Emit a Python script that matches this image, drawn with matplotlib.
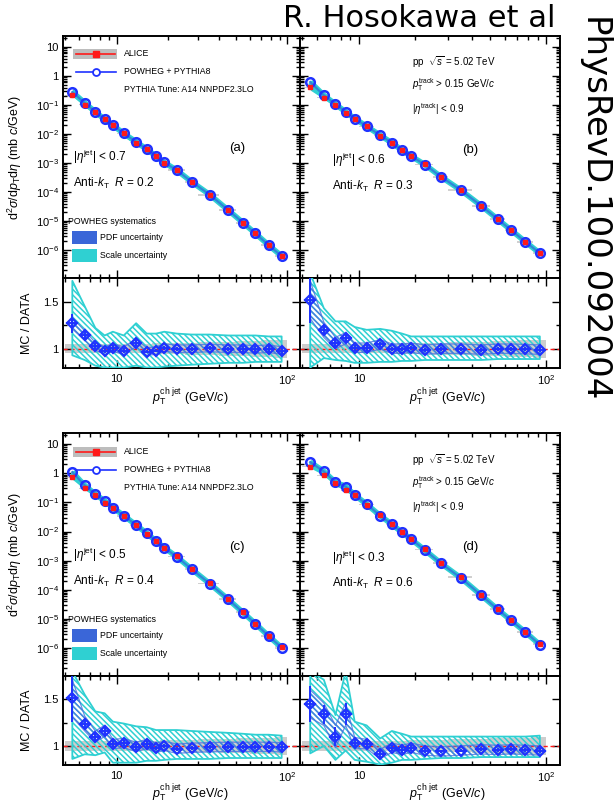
import numpy as np
import matplotlib
matplotlib.use("Agg")
import matplotlib.pyplot as plt
from matplotlib.ticker import FixedLocator, FixedFormatter, NullFormatter, LogLocator
from matplotlib.patches import Rectangle

plt.rcParams['font.family'] = ['Liberation Sans', 'DejaVu Sans']
plt.rcParams['mathtext.fontset'] = 'custom'
plt.rcParams['mathtext.rm'] = 'Liberation Sans'
plt.rcParams['mathtext.it'] = 'Liberation Sans:italic'
plt.rcParams['mathtext.bf'] = 'Liberation Sans:bold'
plt.rcParams['mathtext.sf'] = 'Liberation Sans'
plt.rcParams['hatch.linewidth'] = 1.1

# ---------------- data ----------------
bin_edges = [5, 6, 7, 8, 9, 10, 12, 14, 16, 18, 20, 25, 30, 40, 50, 60, 70, 85, 100]

alice_a = [0.22, 0.104, 0.0566, 0.0331, 0.0200, 0.0107, 0.0051, 0.0031, 0.00178, 0.00104,
           5.7e-4, 2.26e-4, 8.2e-5, 2.4e-5, 8.8e-6, 3.8e-6, 1.5e-6, 6.4e-7]
alice_b = [0.41, 0.181, 0.101, 0.0523, 0.034, 0.0184, 0.0087, 0.0050, 0.00278, 0.00172,
           9.0e-4, 3.35e-4, 1.17e-4, 3.43e-5, 1.18e-5, 4.9e-6, 1.95e-6, 7.9e-7]
alice_c = [0.72, 0.306, 0.173, 0.0966, 0.0647, 0.0342, 0.0168, 0.0085, 0.0048, 0.00278,
           1.4e-3, 5.2e-4, 1.66e-4, 4.75e-5, 1.67e-5, 6.9e-6, 2.63e-6, 1.05e-6]
alice_d = [1.66, 0.86, 0.445, 0.261, 0.175, 0.0843, 0.0383, 0.018, 0.0097, 0.0056,
           2.42e-3, 8.5e-4, 2.7e-4, 6.75e-5, 2.24e-5, 9.2e-6, 3.66e-6, 1.37e-6]

ratio_a = [1.27, 1.14, 1.025, 0.98, 1.01, 0.98, 1.06, 0.97, 0.98, 1.01, 1.0, 1.0, 1.007, 1.0, 1.0, 0.992, 1.0, 0.98]
ratio_b = [1.52, 1.20, 1.06, 1.11, 1.01, 1.01, 1.046, 1.0, 1.0, 1.01, 0.99, 1.0, 1.0, 0.99, 1.0, 1.0, 0.995, 0.99]
ratio_c = [1.51, 1.24, 1.10, 1.16, 1.02, 1.03, 0.99, 1.02, 0.98, 1.0, 0.97, 0.98, 0.985, 0.99, 0.99, 0.99, 0.99, 0.985]
ratio_d = [1.45, 1.34, 1.10, 1.34, 1.03, 1.02, 0.913, 0.98, 0.957, 0.98, 0.95, 0.94, 0.95, 0.963, 0.957, 0.963, 0.957, 0.95]

rerr_a = [0.10, 0.06, 0.03, 0.03, 0.03, 0.03, 0.03, 0.02, 0.02, 0.02, 0.02, 0.02, 0.02, 0.02, 0.03, 0.04, 0.04, 0.05]
rerr_b = [0.25, 0.06, 0.04, 0.05, 0.03, 0.03, 0.03, 0.02, 0.02, 0.02, 0.02, 0.02, 0.02, 0.02, 0.02, 0.02, 0.02, 0.03]
rerr_c = [0.25, 0.06, 0.05, 0.05, 0.03, 0.03, 0.03, 0.03, 0.02, 0.02, 0.02, 0.02, 0.02, 0.02, 0.02, 0.02, 0.02, 0.03]
rerr_d = [0.19, 0.10, 0.10, 0.12, 0.04, 0.04, 0.04, 0.03, 0.03, 0.03, 0.03, 0.02, 0.02, 0.02, 0.02, 0.02, 0.02, 0.03]

scale_hi_a = [1.72, 1.45, 1.22, 1.14, 1.18, 1.14, 1.27, 1.16, 1.16, 1.18, 1.16, 1.15, 1.15, 1.14, 1.14, 1.14, 1.13, 1.13]
scale_lo_a = [0.93, 0.88, 0.82, 0.80, 0.80, 0.80, 0.82, 0.80, 0.80, 0.81, 0.82, 0.83, 0.84, 0.85, 0.85, 0.86, 0.86, 0.86]
scale_hi_b = [1.80, 1.43, 1.29, 1.29, 1.23, 1.20, 1.21, 1.19, 1.16, 1.13, 1.13, 1.13, 1.13, 1.13, 1.13, 1.13, 1.13, 1.13]
scale_lo_b = [0.80, 0.90, 0.88, 0.87, 0.85, 0.85, 0.86, 0.86, 0.87, 0.87, 0.88, 0.88, 0.88, 0.88, 0.89, 0.89, 0.89, 0.89]
scale_hi_c = [1.80, 1.55, 1.37, 1.35, 1.26, 1.24, 1.21, 1.20, 1.17, 1.17, 1.17, 1.16, 1.15, 1.14, 1.13, 1.12, 1.12, 1.11]
scale_lo_c = [0.86, 0.91, 0.90, 0.93, 0.82, 0.82, 0.82, 0.84, 0.84, 0.85, 0.86, 0.86, 0.86, 0.87, 0.87, 0.87, 0.87, 0.87]
scale_hi_d = [1.80, 1.71, 1.33, 1.80, 1.26, 1.22, 1.08, 1.16, 1.13, 1.10, 1.10, 1.10, 1.10, 1.10, 1.10, 1.10, 1.10, 1.11]
scale_lo_d = [0.92, 1.00, 0.85, 0.95, 0.85, 0.83, 0.80, 0.82, 0.85, 0.85, 0.86, 0.87, 0.87, 0.88, 0.88, 0.88, 0.88, 0.88]

pdf_a = [0.06, 0.05, 0.04, 0.04, 0.04, 0.04, 0.04, 0.04, 0.04, 0.04, 0.04, 0.04, 0.04, 0.04, 0.04, 0.04, 0.04, 0.04]
pdf_b = [0.20, 0.08, 0.06, 0.06, 0.05, 0.05, 0.05, 0.05, 0.05, 0.05, 0.05, 0.05, 0.05, 0.05, 0.05, 0.05, 0.05, 0.05]
pdf_c = [0.20, 0.08, 0.06, 0.06, 0.05, 0.05, 0.05, 0.05, 0.05, 0.05, 0.05, 0.05, 0.05, 0.05, 0.05, 0.05, 0.05, 0.05]
pdf_d = [0.15, 0.12, 0.12, 0.12, 0.06, 0.05, 0.05, 0.05, 0.05, 0.05, 0.05, 0.05, 0.05, 0.05, 0.05, 0.05, 0.05, 0.05]

alice_sys = [0.05, 0.05, 0.05, 0.05, 0.05, 0.05, 0.05, 0.05, 0.055, 0.06,
             0.06, 0.065, 0.07, 0.075, 0.08, 0.085, 0.09, 0.095]

panel_labels = ['(a)', '(b)', '(c)', '(d)']
eta_jet_labels = [r'$|\eta^{\rm jet}|$ < 0.7', r'$|\eta^{\rm jet}|$ < 0.6',
                  r'$|\eta^{\rm jet}|$ < 0.5', r'$|\eta^{\rm jet}|$ < 0.3']
radius_labels = [r'Anti-$k_{\rm T}$  $R$ = 0.2', r'Anti-$k_{\rm T}$  $R$ = 0.3',
                 r'Anti-$k_{\rm T}$  $R$ = 0.4', r'Anti-$k_{\rm T}$  $R$ = 0.6']

# ---------------- layout ----------------
W, H = 614, 808
fig = plt.figure(figsize=(W / 100, H / 100), dpi=100)

def add_px(x0, y0, x1, y1, **kw):
    return fig.add_axes([x0 / W, 1 - y1 / H, (x1 - x0) / W, (y1 - y0) / H], **kw)

C_RED = '#ff1a1a'
C_BLUE = '#1f32ff'
C_CYAN = '#2fd0d2'
C_PDF = '#3a66d8'
C_GREY = '#bdbdbd'

edges = np.array(bin_edges, dtype=float)
centers = 0.5 * (edges[:-1] + edges[1:])
widths = np.diff(edges)
halfw = widths / 2

panels = [
    dict(box=(63, 300), ys=(36, 278, 368), alice=alice_a, ratio=ratio_a, rerr=rerr_a,
         shi=scale_hi_a, slo=scale_lo_a, pdf=pdf_a, left=True),
    dict(box=(300, 560), ys=(36, 278, 368), alice=alice_b, ratio=ratio_b, rerr=rerr_b,
         shi=scale_hi_b, slo=scale_lo_b, pdf=pdf_b, left=False),
    dict(box=(63, 300), ys=(433, 676, 765), alice=alice_c, ratio=ratio_c, rerr=rerr_c,
         shi=scale_hi_c, slo=scale_lo_c, pdf=pdf_c, left=True),
    dict(box=(300, 560), ys=(433, 676, 765), alice=alice_d, ratio=ratio_d, rerr=rerr_d,
         shi=scale_hi_d, slo=scale_lo_d, pdf=pdf_d, left=False),
]

XLIM = (4.85, 118.5)
YLIM = (1.1e-7, 24)
RLIM = (0.795, 1.75)
TICKFS = 8

def style_axes(ax):
    for s in ax.spines.values():
        s.set_linewidth(1.4)
    ax.tick_params(which='both', direction='in', top=True, right=True, width=1.0,
                   labelsize=TICKFS, pad=3)
    ax.tick_params(which='major', length=6)
    ax.tick_params(which='minor', length=3)
    ax.set_xscale('log')
    ax.set_xlim(*XLIM)
    ax.xaxis.set_major_locator(FixedLocator([10, 100]))
    ax.xaxis.set_major_formatter(FixedFormatter(['10', r'$10^{2}$']))
    ax.xaxis.set_minor_locator(FixedLocator([5, 6, 7, 8, 9, 20, 30, 40, 50, 60, 70, 80, 90]))
    ax.xaxis.set_minor_formatter(NullFormatter())

for i, p in enumerate(panels):
    x0, x1 = p['box']
    yt, ym, yb = p['ys']
    axm = add_px(x0, yt, x1, ym)
    axr = add_px(x0, ym, x1, yb)
    alice = np.array(p['alice'])
    ratio = np.array(p['ratio'])
    rerr = np.array(p['rerr'])
    shi = np.array(p['shi'])
    slo = np.array(p['slo'])
    pdf = np.array(p['pdf'])
    sys_ = np.array(alice_sys)
    powheg = alice * ratio

    # ---- main panel ----
    style_axes(axm)
    axm.set_yscale('log')
    axm.set_ylim(*YLIM)
    axm.bar(edges[:-1], alice * 2 * sys_, bottom=alice * (1 - sys_), width=widths,
            align='edge', color=C_GREY, alpha=0.7, lw=0, zorder=1)
    axm.fill_between(centers, alice * slo, alice * np.minimum(shi, 1.75), color=C_CYAN, lw=0, zorder=2)
    axm.plot(centers, powheg, color=C_CYAN, lw=4.0, zorder=2, solid_capstyle='butt')
    axm.plot(centers, powheg, color='#2f86d8', lw=1.6, zorder=3)
    axm.plot(centers, powheg, ls='none', marker='o', ms=6.2, mfc='none', mec=C_BLUE, mew=1.8, zorder=4)
    axm.errorbar(centers, alice, yerr=alice * 0.04, fmt='s', ms=3.3,
                 color=C_RED, mec=C_RED, elinewidth=1.0, capsize=0, zorder=5)
    axm.yaxis.set_major_locator(FixedLocator([10.0 ** k for k in range(-7, 2)]))
    ylabs = []
    for k in range(-7, 2):
        if k == 1:
            ylabs.append('10')
        elif k == 0:
            ylabs.append('1')
        else:
            ylabs.append(r'$10^{%d}$' % k)
    axm.yaxis.set_major_formatter(FixedFormatter(ylabs))
    axm.yaxis.set_minor_locator(LogLocator(base=10, subs=np.arange(2, 10), numticks=30))
    axm.yaxis.set_minor_formatter(NullFormatter())
    axm.tick_params(axis='x', labelbottom=False)
    if p['left']:
        axm.set_ylabel(r'd$^{2}\sigma$/d$p_{\rm T}$d$\eta$ (mb $c$/GeV)', fontsize=9)
        axm.yaxis.set_label_coords(-0.165, 0.5)
    else:
        axm.tick_params(axis='y', labelleft=False)

    # ---- ratio panel ----
    style_axes(axr)
    axr.set_ylim(*RLIM)
    axr.bar(edges[:-1], 2 * sys_, bottom=1 - sys_, width=widths, align='edge',
            color=C_GREY, alpha=0.75, lw=0, zorder=1)
    axr.axhline(1.0, color=C_RED, ls='--', lw=1.0, dashes=(3, 2), zorder=2)
    axr.fill_between(centers, slo, shi, facecolor='none', edgecolor=C_CYAN,
                     hatch='\\\\\\\\\\\\', lw=1.3, zorder=3)
    axr.fill_between(centers, ratio - pdf, ratio + pdf, facecolor='none', edgecolor='#4a6fe0',
                     hatch='\\\\\\\\\\\\', lw=0.9, alpha=0.8, zorder=4)
    axr.errorbar(centers, ratio, yerr=rerr, fmt='D', ms=5.0, mfc='none', mec=C_BLUE, mew=1.6,
                 color=C_BLUE, elinewidth=1.4, capsize=0, zorder=6)
    axr.plot(centers, ratio, ls='none', marker='_', ms=8, mew=1.4, color=C_BLUE, zorder=6)
    axr.yaxis.set_major_locator(FixedLocator([1.0, 1.5]))
    axr.yaxis.set_major_formatter(FixedFormatter(['1', '1.5']))
    axr.yaxis.set_minor_locator(FixedLocator([1.25]))
    axr.yaxis.set_minor_formatter(NullFormatter())
    axr.tick_params(axis='x', pad=4)
    axr.set_xlabel(r'$p_{\rm T}^{\rm ch\;jet}$ (GeV/$c$)', fontsize=9)
    axr.xaxis.set_label_coords(0.536 if p['left'] else 0.565, -0.2)
    if p['left']:
        axr.set_ylabel('MC / DATA', fontsize=9)
        axr.yaxis.set_label_coords(-0.128, 0.5)
    else:
        axr.tick_params(axis='y', labelleft=False)

# ---------------- overlay texts / legends ----------------
ov = fig.add_axes([0, 0, 1, 1], zorder=20)
ov.set_xlim(0, W)
ov.set_ylim(H, 0)
ov.axis('off')
ov.patch.set_alpha(0)

LFS = 6.3
for dy in (0, 398):
    ov.add_patch(Rectangle((72.5, 48.5 + dy), 44, 10.5, color=C_GREY, lw=0))
    ov.plot([76, 115], [53.5 + dy, 53.5 + dy], color=C_RED, lw=1.2)
    ov.plot([95.5], [53.5 + dy], marker='s', ms=4.5, color=C_RED)
    ov.text(124, 53.5 + dy, 'ALICE', fontsize=LFS, va='center')
    ov.plot([76, 116], [71.7 + dy, 71.7 + dy], color=C_BLUE, lw=1.2)
    ov.plot([95.5], [71.7 + dy], marker='o', ms=5, mfc='white', mec=C_BLUE, mew=1.3)
    ov.text(124, 72 + dy, 'POWHEG + PYTHIA8', fontsize=LFS, va='center')
    ov.text(124, 90 + dy, 'PYTHIA Tune: A14 NNPDF2.3LO', fontsize=LFS, va='center')
    ov.text(68.5, 221 + dy, 'POWHEG systematics', fontsize=LFS, va='center')
    ov.add_patch(Rectangle((71.7, 230.5 + dy), 25, 13, color=C_PDF, lw=0))
    ov.text(100, 237.5 + dy, 'PDF uncertainty', fontsize=LFS, va='center')
    ov.add_patch(Rectangle((71.7, 249 + dy), 25, 12.5, color=C_CYAN, lw=0))
    ov.text(100, 255.5 + dy, 'Scale uncertainty', fontsize=LFS, va='center')

    ov.text(412, 62 + dy, r'pp  $\sqrt{s}$ = 5.02 TeV', fontsize=7, va='center')
    ov.text(412, 85 + dy, r'$p_{\rm T}^{\rm track}$ > 0.15 GeV/$c$', fontsize=7, va='center')
    ov.text(412, 109.5 + dy, r'$|\eta^{\rm track}|$ < 0.9', fontsize=7, va='center')

pos_left = [(73, 157, 183), (332, 160, 186), (73, 555, 581.7), (332, 558.3, 583.3)]
pos_lab = [(237, 148), (470, 150), (237, 546.7), (470, 546.7)]
for i in range(4):
    xx, ye, yr = pos_left[i]
    ov.text(xx, ye, eta_jet_labels[i], fontsize=8.5, va='center')
    ov.text(xx, yr, radius_labels[i], fontsize=8.5, va='center')
    ov.text(pos_lab[i][0], pos_lab[i][1], panel_labels[i], fontsize=9.5, va='center', ha='center')

# header and side reference
fig.text(283 / W, 1 - 27 / H, 'R. Hosokawa et al', fontsize=22, family='DejaVu Sans',
         ha='left', va='baseline')
fig.text(593 / W, 1 - 17 / H, 'PhysRevD.100.092004', fontsize=24.5, family='DejaVu Sans',
         rotation=-90, ha='center', va='top')

fig.savefig('out.png', dpi=100)
